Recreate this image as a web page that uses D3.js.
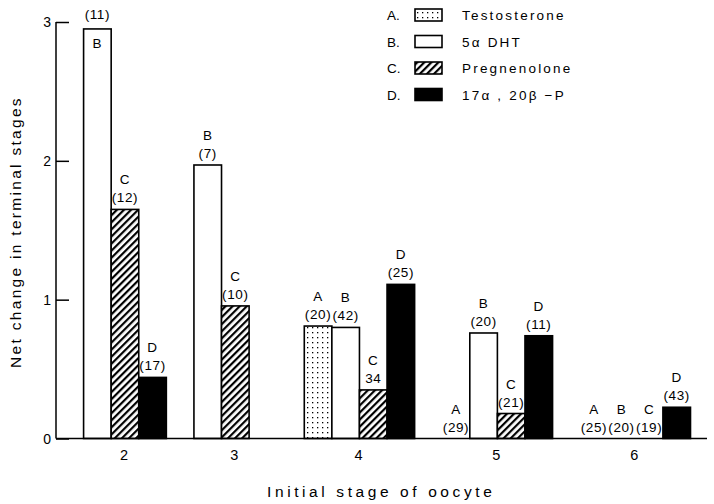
<!DOCTYPE html>
<meta charset="UTF-8">
<html>
<head>
<script src="https://d3js.org/d3.v7.min.js"></script>
<style>
  body { margin: 0; background: #fff; }
  text { font-family: "Liberation Sans", Arial, sans-serif; fill: #000; }
</style>
</head>
<body>
<svg id="chart" width="714" height="504"></svg>
<script>
// stages on the x axis and the bar slots each stage has
var stages = ["2", "3", "4", "5", "6"];
var stageSlots = [["B", "C", "D"], ["B", "C", "D"], ["A", "B", "C", "D"], ["A", "B", "C", "D"], ["A", "B", "C", "D"]];

// net change in terminal stages, one value per stage (null = no bar)
var testosterone = [null, null, 0.81, 0, 0];
var dht          = [2.95, 1.97, 0.80, 0.76, 0];
var pregnenolone = [1.65, 0.955, 0.35, 0.18, 0];
var hydroxyP     = [0.44, null, 1.11, 0.74, 0.225];

// number of oocytes written above each bar
var nTestosterone = [null, null, "(20)", "(29)", "(25)"];
var nDht          = ["(11)", "(7)", "(42)", "(20)", "(20)"];
var nPregnenolone = ["(12)", "(10)", "34", "(21)", "(19)"];
var nHydroxyP     = ["(17)", null, "(25)", "(11)", "(43)"];

var seriesKeys = ["A", "B", "C", "D"];
var seriesNames = ["Testosterone", "5\u03b1  DHT", "Pregnenolone", "17\u03b1 , 20\u03b2 \u2212P"];
var yTicks = [0, 1, 2, 3];

var values = { A: testosterone, B: dht, C: pregnenolone, D: hydroxyP };
var counts = { A: nTestosterone, B: nDht, C: nPregnenolone, D: nHydroxyP };
var fills = { A: "url(#dots)", B: "#fff", C: "url(#hatch)", D: "#000" };

var svg = d3.select("#chart");

var defs = svg.append("defs");
var dots = defs.append("pattern").attr("id", "dots").attr("patternUnits", "userSpaceOnUse")
  .attr("width", 5).attr("height", 5);
dots.append("rect").attr("width", 5).attr("height", 5).attr("fill", "#fff");
dots.append("rect").attr("x", 2).attr("y", 2).attr("width", 1.3).attr("height", 1.3).attr("fill", "#000");

var hatch = defs.append("pattern").attr("id", "hatch").attr("patternUnits", "userSpaceOnUse")
  .attr("width", 5).attr("height", 5).attr("patternTransform", "rotate(45)");
hatch.append("rect").attr("width", 5).attr("height", 5).attr("fill", "#fff");
hatch.append("rect").attr("x", 0).attr("y", 0).attr("width", 2.2).attr("height", 5).attr("fill", "#000");

// one band per slot, with an empty band between stages
var slotDomain = ["gap0"];
stages.forEach(function (s, i) {
  stageSlots[i].forEach(function (k) { slotDomain.push(s + k); });
  slotDomain.push("gap" + (i + 1));
});
slotDomain.pop();

var x = d3.scaleBand().domain(slotDomain).range([56, 690.5]).paddingInner(0).paddingOuter(0);
var y = d3.scaleLinear().domain([0, 3]).range([438.5, 22]);

// bars
var bars = [];
stages.forEach(function (s, i) {
  stageSlots[i].forEach(function (k) {
    if (values[k][i] !== null) bars.push({ stage: s, key: k, v: values[k][i], n: counts[k][i] });
  });
});

svg.append("g").selectAll("rect").data(bars.filter(function (d) { return d.v > 0; }))
  .enter().append("rect")
  .attr("x", function (d) { return x(d.stage + d.key); })
  .attr("y", function (d) { return y(d.v); })
  .attr("width", x.bandwidth())
  .attr("height", function (d) { return y(0) - y(d.v); })
  .attr("fill", function (d) { return fills[d.key]; })
  .attr("stroke", "#000").attr("stroke-width", 1.6);

// labels above bars
var lab = svg.append("g").attr("font-size", 13.5).attr("text-anchor", "middle").style("letter-spacing", "0.6px");
bars.forEach(function (d) {
  var cx = x(d.stage + d.key) + x.bandwidth() / 2;
  var top = y(d.v);
  if (d.stage === "2" && d.key === "B") {
    lab.append("text").attr("x", cx).attr("y", top - 10).text(d.n);
    lab.append("text").attr("x", cx).attr("y", top + 19).text(d.key);
    return;
  }
  lab.append("text").attr("x", cx).attr("y", top - 7).text(d.n);
  lab.append("text").attr("x", cx).attr("y", top - 25).text(d.key);
});

// axes
var yAxis = d3.axisRight(y).tickValues(yTicks).tickSize(13).tickFormat("");
var ga = svg.append("g").attr("transform", "translate(56,0)").call(yAxis);
ga.select(".domain").attr("d", "M0," + y(3) + "V" + y(0)).attr("stroke-width", 1.5);
ga.selectAll(".tick line").attr("stroke-width", 1.5);
svg.append("g").selectAll("text").data(yTicks).enter().append("text")
  .attr("x", 51).attr("y", function (d) { return y(d) + 5; })
  .attr("text-anchor", "end").attr("font-size", 14)
  .text(function (d) { return d; });

svg.append("line").attr("x1", 56).attr("x2", 707).attr("y1", y(0)).attr("y2", y(0))
  .attr("stroke", "#000").attr("stroke-width", 1.6);

// stage labels centred under each group
svg.append("g").selectAll("text").data(stages).enter().append("text")
  .attr("x", function (s, i) {
    var a = x(s + stageSlots[i][0]);
    var b = x(s + stageSlots[i][stageSlots[i].length - 1]) + x.bandwidth();
    return (a + b) / 2 - 1;
  })
  .attr("y", 460).attr("text-anchor", "middle").attr("font-size", 14.5)
  .text(function (s) { return s; });

svg.append("text").attr("x", 267).attr("y", 497)
  .attr("font-size", 15.5).style("letter-spacing", "3.6px").text("Initial stage of oocyte");

svg.append("text").attr("transform", "translate(21,232) rotate(-90)").attr("text-anchor", "middle")
  .attr("font-size", 15.5).style("letter-spacing", "2.3px").text("Net change in terminal stages");

// legend
var leg = svg.append("g").selectAll("g").data(seriesKeys).enter().append("g")
  .attr("transform", function (d, i) { return "translate(0," + (15 + i * 26.5) + ")"; });
leg.append("text").attr("x", 387).attr("y", 5).attr("font-size", 13.5).text(function (d) { return d + "."; });
leg.append("rect").attr("x", 415).attr("y", -6).attr("width", 27).attr("height", 12)
  .attr("fill", function (d) { return fills[d]; }).attr("stroke", "#000").attr("stroke-width", 1.6);
leg.append("text").attr("x", 462).attr("y", 5).attr("font-size", 13.5).style("letter-spacing", "2.2px")
  .text(function (d, i) { return seriesNames[i]; });
</script>
</body>
</html>
